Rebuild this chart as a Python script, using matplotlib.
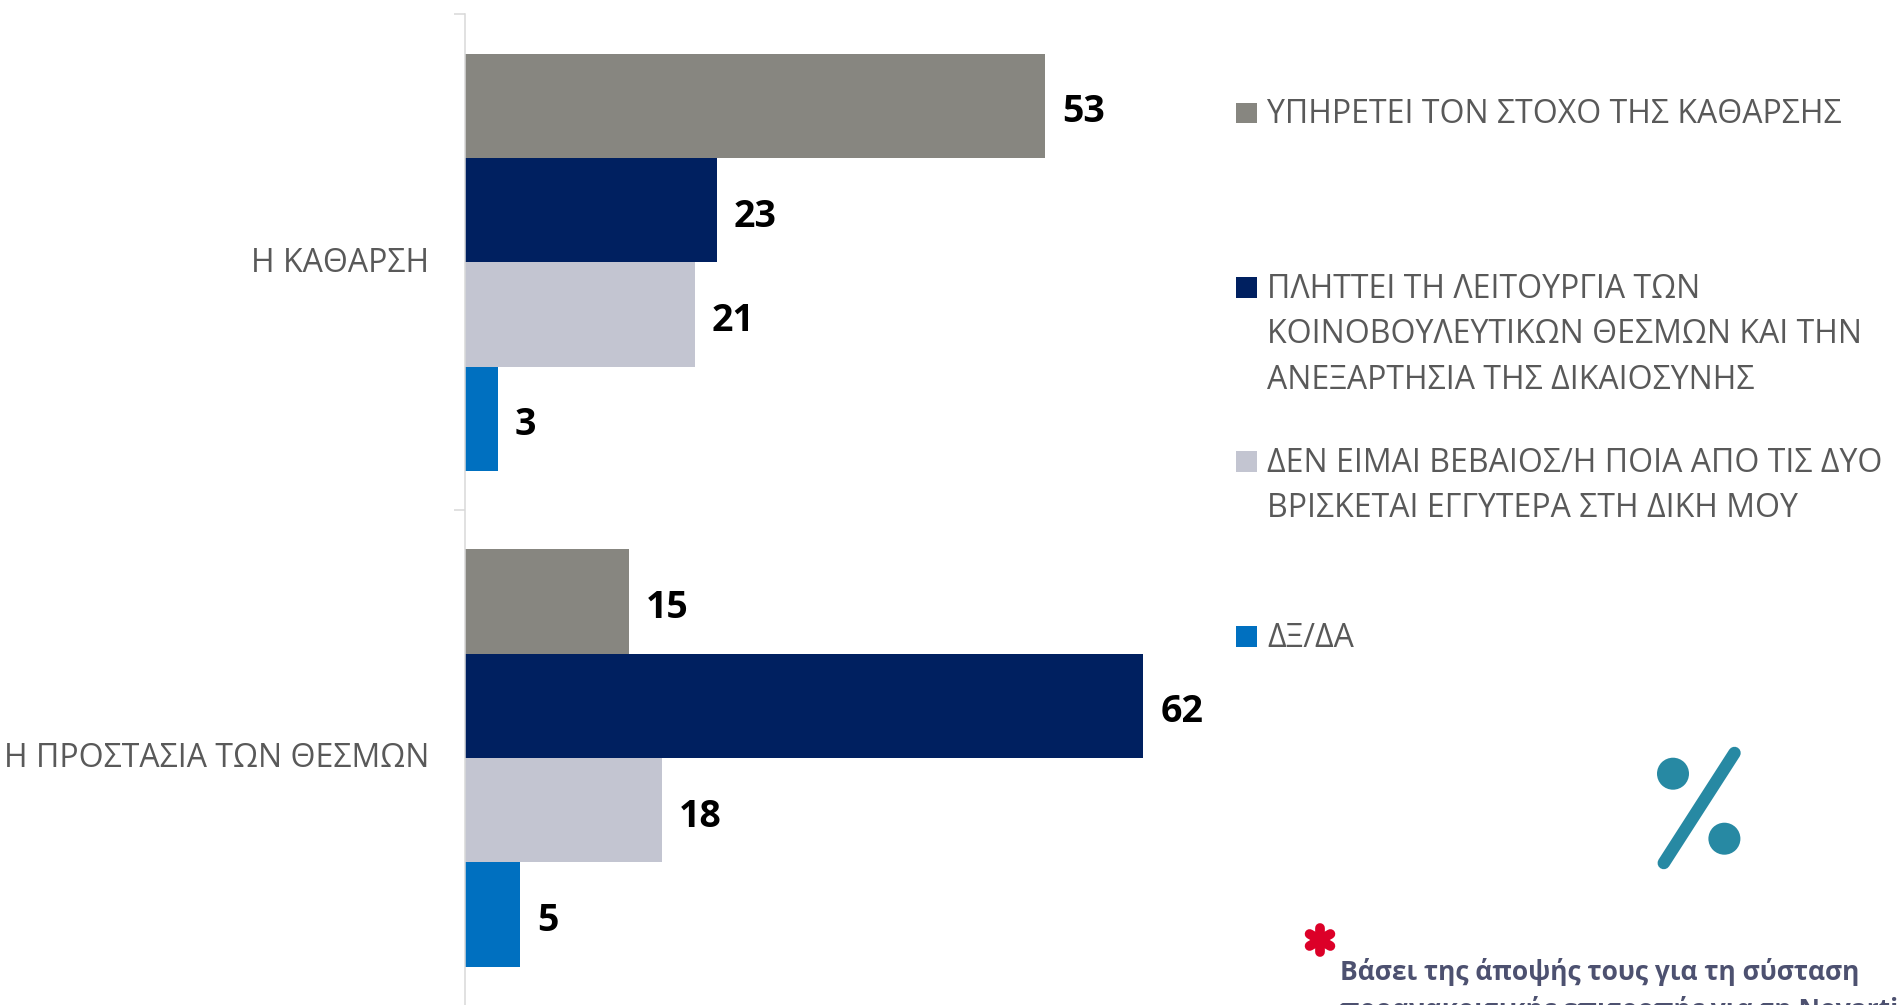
import matplotlib
matplotlib.use('Agg')
import matplotlib.pyplot as plt
from matplotlib.patches import Ellipse, Rectangle
import numpy as np

plt.rcParams['font.family'] = ['Open Sans', 'DejaVu Sans']

categories = ['Η ΚΑΘΑΡΣΗ', 'Η ΠΡΟΣΤΑΣΙΑ ΤΩΝ ΘΕΣΜΩΝ']
serve_goal = [53, 15]
hurts_institutions = [23, 62]
not_sure = [21, 18]
dk_na = [3, 5]
series = [serve_goal, hurts_institutions, not_sure, dk_na]

colors = ['#878680', '#002060', '#C3C5D1', '#0070C0']
legend_labels = [
    'ΥΠΗΡΕΤΕΙ ΤΟΝ ΣΤΟΧΟ ΤΗΣ ΚΑΘΑΡΣΗΣ',
    'ΠΛΗΤΤΕΙ ΤΗ ΛΕΙΤΟΥΡΓΙΑ ΤΩΝ\nΚΟΙΝΟΒΟΥΛΕΥΤΙΚΩΝ ΘΕΣΜΩΝ ΚΑΙ ΤΗΝ\nΑΝΕΞΑΡΤΗΣΙΑ ΤΗΣ ΔΙΚΑΙΟΣΥΝΗΣ',
    'ΔΕΝ ΕΙΜΑΙ ΒΕΒΑΙΟΣ/Η ΠΟΙΑ ΑΠΟ ΤΙΣ ΔΥΟ\nΒΡΙΣΚΕΤΑΙ ΕΓΓΥΤΕΡΑ ΣΤΗ ΔΙΚΗ ΜΟΥ',
    'ΔΞ/ΔΑ',
]
footnote = 'Βάσει της άποψής τους για τη σύσταση\nπροανακριτικής επιτροπής για τη Novartis'

W, H = 1897, 1005
fig = plt.figure(figsize=(W / 100, H / 100), dpi=100, facecolor='white')

# bars: axes spans 465..1160 px, 14.5..1006 px
ax = fig.add_axes([465 / W, -1 / H, 695 / W, 1 - 13.5 / H])
bar_h = 0.2105
y = np.arange(len(categories))
label_shift = matplotlib.transforms.ScaledTranslation(17 / 100, -2 / 100, fig.dpi_scale_trans)
for i, vals in enumerate(series):
    pos = y + (i - 1.5) * bar_h
    ax.barh(pos, vals, height=bar_h, color=colors[i])
    for p, v in zip(pos, vals):
        ax.text(v, p, str(v), va='center_baseline', ha='left', fontsize=27, fontweight='bold',
                color='black', transform=ax.transData + label_shift)

ax.set_xlim(0, 695 / 10.94)
ax.set_ylim(1.5, -0.5)
ax.set_yticks([-0.5, 0.5, 1.5])
ax.set_yticklabels([])
ax.set_xticks([])
ax.tick_params(axis='y', length=8, width=1.1, color='#D9D9D9')
for s in ['top', 'right', 'bottom']:
    ax.spines[s].set_visible(False)
ax.spines['left'].set_color('#D9D9D9')
ax.spines['left'].set_linewidth(1.1)

# overlay in pixel coordinates for the pptx-style parts
ov = fig.add_axes([0, 0, 1, 1], facecolor='none')
ov.set_xlim(0, W)
ov.set_ylim(H, 0)
ov.axis('off')

grey = '#595959'
label_size = 23
for c, ly in zip(categories, [263.5, 758.5]):
    ov.text(429, ly, c, ha='right', va='center', fontsize=label_size, color=grey)

legend_top = [102.5, 277, 451, 626]
for lab, col, ty in zip(legend_labels, colors, legend_top):
    ov.add_patch(Rectangle((1236, ty), 21, 20.5, color=col, lw=0))
    for k, line in enumerate(lab.split('\n')):
        ov.text(1267, ty + 12 + k * 45.7, line, ha='left', va='center', fontsize=label_size, color=grey)

# percent icon
teal = '#2789A3'
ov.add_patch(Ellipse((1673, 773.7), 32, 32, color=teal, lw=0))
ov.add_patch(Ellipse((1724.4, 838.7), 32, 32, color=teal, lw=0))
ov.plot([1734.5, 1663.8], [753, 863], color=teal, lw=9, solid_capstyle='round')

# red asterisk
for a in [90, 30, 150]:
    dx, dy = 12 * np.cos(np.radians(a)), 12 * np.sin(np.radians(a))
    ov.plot([1320 - dx, 1320 + dx], [940 - dy, 940 + dy], color='#DC0028', lw=7, solid_capstyle='round')

# footnote runs off the page like the original slide
for k, line in enumerate(footnote.split('\n')):
    ov.text(1340, 972 + k * 38, line, ha='left', va='center', fontsize=19, fontweight='bold',
            color='#4D5170')

fig.savefig('out.png', dpi=100, facecolor='white')
